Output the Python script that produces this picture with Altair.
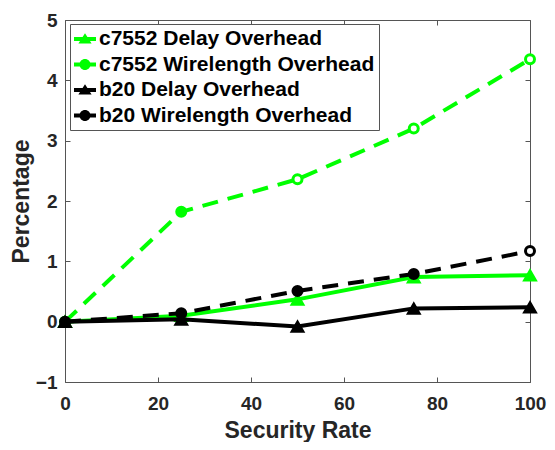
import altair as alt
import pandas as pd

# ---------------- data ----------------
security_rate = [0, 25, 50, 75, 100]
series_names = [
    "c7552 Delay Overhead",
    "c7552 Wirelength Overhead",
    "b20 Delay Overhead",
    "b20 Wirelength Overhead",
]
c7552_delay = [0.0, 0.10, 0.37, 0.74, 0.77]
c7552_wire = [0.0, 1.82, 2.36, 3.20, 4.35]
b20_delay = [0.0, 0.04, -0.08, 0.22, 0.24]
b20_wire = [0.0, 0.14, 0.51, 0.79, 1.17]
# which markers are drawn open (ring) in the reference
c7552_delay_open = [False, False, False, False, False]
c7552_wire_open = [False, False, True, True, True]
b20_delay_open = [False, False, False, False, False]
b20_wire_open = [False, False, False, False, True]

x_ticks = [0, 20, 40, 60, 80, 100]
y_ticks = [-1, 0, 1, 2, 3, 4, 5]

# ---------------- styling ----------------
W, H = 465, 362
FONT = "Liberation Sans"
AX = "#555555"
TXT = "#262626"
GREEN = "#00ff00"
BLACK = "#000000"

series_values = [c7552_delay, c7552_wire, b20_delay, b20_wire]
series_open = [c7552_delay_open, c7552_wire_open, b20_delay_open, b20_wire_open]
series_colors = [GREEN, GREEN, BLACK, BLACK]
series_dashed = [False, True, False, True]
series_shape = ["triangle-up", "circle", "triangle-up", "circle"]

x_scale = alt.Scale(domain=[0, 100], nice=False, zero=False)
y_scale = alt.Scale(domain=[-1, 5], nice=False, zero=False)

main_x_axis = alt.Axis(
    orient="bottom", values=x_ticks, title="Security Rate", grid=False,
    ticks=False, tickSize=0, domain=True, domainColor=AX, domainWidth=1,
    labelFont=FONT, labelFontSize=19, labelFontWeight="bold", labelColor=TXT,
    labelPadding=12, titleFont=FONT, titleFontSize=23, titleFontWeight="bold",
    titleColor=TXT, titlePadding=6, labelFlush=False,
)
main_y_axis = alt.Axis(
    orient="left", values=y_ticks, title="Percentage", grid=False,
    ticks=False, tickSize=0, domain=True, domainColor=AX, domainWidth=1,
    labelFont=FONT, labelFontSize=19, labelFontWeight="bold", labelColor=TXT,
    labelPadding=8, titleFont=FONT, titleFontSize=23, titleFontWeight="bold",
    titleColor=TXT, titlePadding=2, labelFlush=False,
)
# inward ticks (placed with an opposite orient and a negative offset)
x_in_bottom = alt.Axis(orient="top", offset=-H, values=x_ticks, labels=False,
                       domain=False, ticks=True, tickSize=5, tickColor=AX,
                       tickWidth=1, title=None, grid=False)
x_in_top = alt.Axis(orient="bottom", offset=-H, values=x_ticks, labels=False,
                    domain=True, domainColor=AX, domainWidth=1, ticks=True,
                    tickSize=5, tickColor=AX, tickWidth=1, title=None, grid=False)
y_in_left = alt.Axis(orient="right", offset=-W, values=y_ticks, labels=False,
                     domain=False, ticks=True, tickSize=5, tickColor=AX,
                     tickWidth=1, title=None, grid=False)
y_in_right = alt.Axis(orient="left", offset=-W, values=y_ticks, labels=False,
                      domain=True, domainColor=AX, domainWidth=1, ticks=True,
                      tickSize=5, tickColor=AX, tickWidth=1, title=None, grid=False)

axis_plan = {
    ("line", 0): (main_x_axis, main_y_axis),
    ("point", 0): (x_in_bottom, y_in_left),
    ("line", 1): (x_in_top, y_in_right),
}

layers = []
for i, name in enumerate(series_names):
    df = pd.DataFrame({
        "x": security_rate,
        "v": series_values[i],
        "hollow": series_open[i],
        "series": name,
    })
    color = series_colors[i]
    for kind in ("line", "point"):
        ax_x, ax_y = axis_plan.get((kind, i), (None, None))
        enc = dict(
            x=alt.X("x:Q", scale=x_scale, axis=ax_x),
            y=alt.Y("v:Q", scale=y_scale, axis=ax_y),
        )
        if kind == "line":
            props = dict(color=color, strokeWidth=4, strokeCap="butt")
            if series_dashed[i]:
                props["strokeDash"] = [16, 10]
            layers.append(alt.Chart(df).mark_line(**props).encode(**enc))
        else:
            if series_shape[i] == "circle":
                mk = alt.Chart(df).mark_point(
                    shape="circle", filled=True, size=81, stroke=color,
                    strokeWidth=3, opacity=1,
                ).encode(
                    fill=alt.condition("datum.hollow", alt.value("white"), alt.value(color)),
                    **enc,
                )
            else:
                mk = alt.Chart(df).mark_point(
                    shape="triangle-up", filled=True, size=169, color=color,
                    stroke=color, strokeWidth=1.5, opacity=1,
                ).encode(**enc)
            layers.append(mk)

# legend layer: symbols = short line + marker
tri_path = "M-1,-0.18L1,-0.18L1,0.18L-1,0.18Z M-0.6,0.42L0,-0.52L0.6,0.42Z"
cir_path = ("M-1,-0.18L1,-0.18L1,0.18L-1,0.18Z "
            "M-0.5,0A0.5,0.5 0 1,1 0.5,0A0.5,0.5 0 1,1 -0.5,0Z")
legend_paths = [tri_path if s == "triangle-up" else cir_path for s in series_shape]

def make_legend():
    return alt.Legend(
        orient="none", legendX=5, legendY=4, title=None,
        symbolSize=484, symbolStrokeWidth=0,
        labelFont=FONT, labelFontSize=21, labelFontWeight="bold",
        labelColor="black", labelOffset=3, padding=4, rowPadding=4.5,
        fillColor="white", strokeColor=AX, labelLimit=400,
    )

legend_df = pd.DataFrame({"series": series_names})
legend_layer = alt.Chart(legend_df).mark_point(
    filled=True, opacity=1, size=484
).encode(
    color=alt.Color("series:N", scale=alt.Scale(domain=series_names, range=series_colors),
                    legend=make_legend()),
    shape=alt.Shape("series:N", scale=alt.Scale(domain=series_names, range=legend_paths),
                    legend=make_legend()),
).transform_filter("false")
layers.append(legend_layer)

chart = alt.layer(*layers).resolve_axis(
    x="independent", y="independent"
).properties(
    width=W, height=H,
    autosize=alt.AutoSizeParams(type="none"),
    padding={"left": 57, "top": 12, "right": 17, "bottom": 60},
).configure_view(stroke=None)

chart.save("out.html", embed_options={"renderer": "svg", "actions": False})
